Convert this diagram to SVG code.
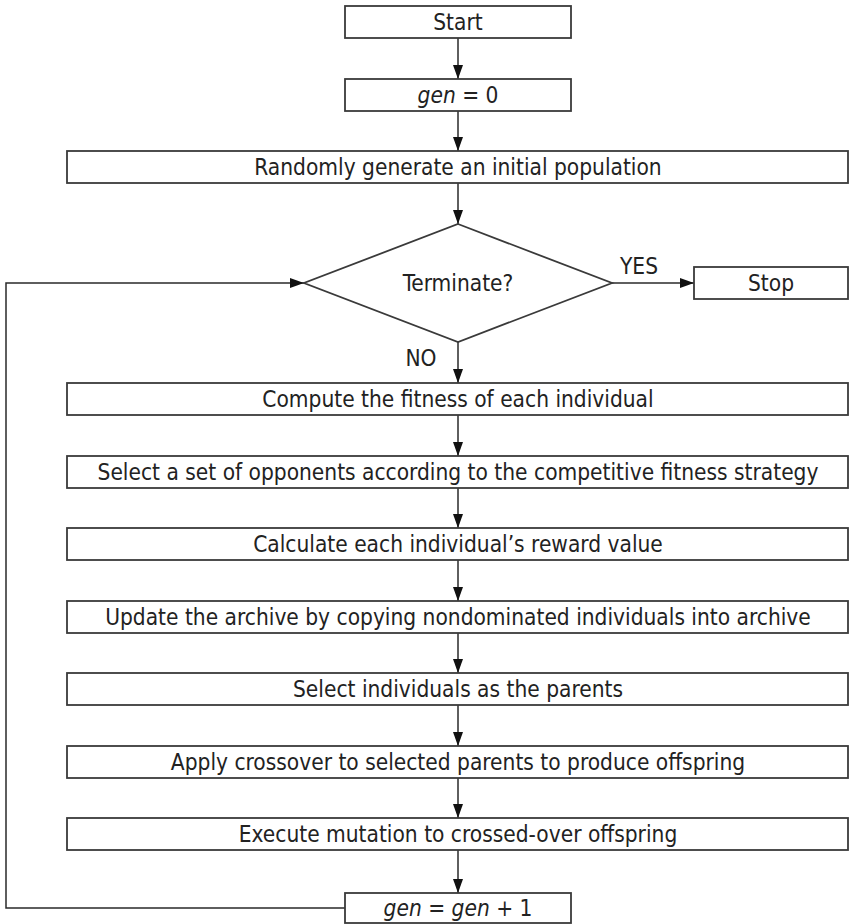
<svg xmlns="http://www.w3.org/2000/svg" width="849" height="924" viewBox="0 0 849 924">
  <style>
    .box { fill: #ffffff; stroke: #3a3a3a; stroke-width: 1.8; }
    .link { fill: none; stroke: #2a2a2a; stroke-width: 1.5; }
    text { font-family: "DejaVu Sans Condensed", "DejaVu Sans", sans-serif; font-stretch: condensed; font-size: 22.5px; fill: #222222; text-anchor: middle; dominant-baseline: central; }
    .it { font-style: italic; }
  </style>
  <defs>
    <marker id="arrow" viewBox="0 0 14 10" refX="14" refY="5" markerWidth="14" markerHeight="10" markerUnits="userSpaceOnUse" orient="auto">
      <path d="M0,0 L14,5 L0,10 Z" fill="#111111"/>
    </marker>
  </defs>
  <rect width="849" height="924" fill="#ffffff"/>

  <!-- flow arrows, the YES/NO branch labels and the loop back to the test -->
  <g id="connectors">
    <line class="link" x1="458" y1="38" x2="458" y2="79" marker-end="url(#arrow)"/>
    <line class="link" x1="458" y1="111" x2="458" y2="151" marker-end="url(#arrow)"/>
    <line class="link" x1="458" y1="183" x2="458" y2="224" marker-end="url(#arrow)"/>
    <line class="link" x1="612" y1="283" x2="694" y2="283" marker-end="url(#arrow)"/>
    <line class="link" x1="458" y1="342" x2="458" y2="383" marker-end="url(#arrow)"/>
    <line class="link" x1="458" y1="415" x2="458" y2="456" marker-end="url(#arrow)"/>
    <line class="link" x1="458" y1="488" x2="458" y2="528" marker-end="url(#arrow)"/>
    <line class="link" x1="458" y1="560" x2="458" y2="601" marker-end="url(#arrow)"/>
    <line class="link" x1="458" y1="633" x2="458" y2="673" marker-end="url(#arrow)"/>
    <line class="link" x1="458" y1="705" x2="458" y2="746" marker-end="url(#arrow)"/>
    <line class="link" x1="458" y1="778" x2="458" y2="818" marker-end="url(#arrow)"/>
    <line class="link" x1="458" y1="850" x2="458" y2="893" marker-end="url(#arrow)"/>
    <polyline class="link" points="345,908 6,908 6,283 304,283" marker-end="url(#arrow)"/>
    <text x="639" y="266">YES</text>
    <text x="421" y="358">NO</text>
  </g>

  <g id="start">
    <rect class="box" x="345" y="6" width="226" height="32"/>
    <text x="458" y="22">Start</text>
  </g>
  <g id="init-gen">
    <rect class="box" x="345" y="79" width="226" height="32"/>
    <text x="458" y="95"><tspan class="it">gen</tspan> = 0</text>
  </g>
  <g id="init-pop">
    <rect class="box" x="67" y="151" width="781" height="32"/>
    <text x="458" y="167">Randomly generate an initial population</text>
  </g>
  <g id="terminate">
    <polygon class="box" points="458,224 612,283 458,342 304,283"/>
    <text x="458" y="283">Terminate?</text>
  </g>
  <g id="stop">
    <rect class="box" x="694" y="267" width="154" height="32"/>
    <text x="771" y="283">Stop</text>
  </g>
  <g id="fitness">
    <rect class="box" x="67" y="383" width="781" height="32"/>
    <text x="458" y="399">Compute the fitness of each individual</text>
  </g>
  <g id="opponents">
    <rect class="box" x="67" y="456" width="781" height="32"/>
    <text x="458" y="472">Select a set of opponents according to the competitive fitness strategy</text>
  </g>
  <g id="reward">
    <rect class="box" x="67" y="528" width="781" height="32"/>
    <text x="458" y="544">Calculate each individual’s reward value</text>
  </g>
  <g id="archive">
    <rect class="box" x="67" y="601" width="781" height="32"/>
    <text x="458" y="617">Update the archive by copying nondominated individuals into archive</text>
  </g>
  <g id="parents">
    <rect class="box" x="67" y="673" width="781" height="32"/>
    <text x="458" y="689">Select individuals as the parents</text>
  </g>
  <g id="crossover">
    <rect class="box" x="67" y="746" width="781" height="32"/>
    <text x="458" y="762">Apply crossover to selected parents to produce offspring</text>
  </g>
  <g id="mutation">
    <rect class="box" x="67" y="818" width="781" height="32"/>
    <text x="458" y="834">Execute mutation to crossed-over offspring</text>
  </g>
  <g id="next-gen">
    <rect class="box" x="345" y="893" width="226" height="30"/>
    <text x="458" y="908"><tspan class="it">gen</tspan> = <tspan class="it">gen</tspan> + 1</text>
  </g>
</svg>
